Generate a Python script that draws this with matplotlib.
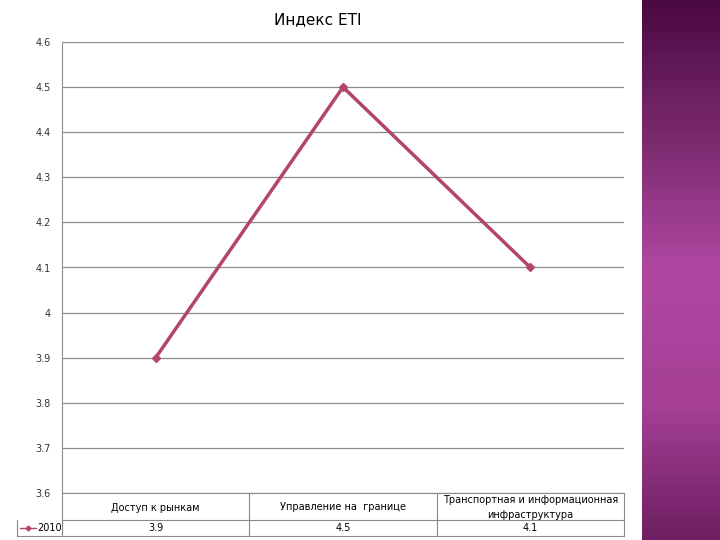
import numpy as np
import matplotlib
matplotlib.use("Agg")
import matplotlib.pyplot as plt
from matplotlib.colors import LinearSegmentedColormap

categories = ["Доступ к рынкам", "Управление на  границе",
              "Транспортная и информационная\nинфраструктура"]
values_2010 = [3.9, 4.5, 4.1]
series_name = "2010"
yticks = [3.6, 3.7, 3.8, 3.9, 4.0, 4.1, 4.2, 4.3, 4.4, 4.5, 4.6]
ytick_labels = ["3.6", "3.7", "3.8", "3.9", "4", "4.1", "4.2", "4.3", "4.4", "4.5", "4.6"]

W, H = 720, 540
fig = plt.figure(figsize=(7.2, 5.4), dpi=100)
fig.patch.set_facecolor("white")

# purple decorative strip on the right
strip = fig.add_axes([642 / W, 0, 78 / W, 1])
cmap = LinearSegmentedColormap.from_list("p", ["#4a0842", "#7a2a6e", "#b048a2", "#a54096", "#6e1f62"])
grad = np.linspace(0, 1, 256).reshape(-1, 1)
strip.imshow(grad, aspect="auto", cmap=cmap, extent=[0, 1, 1, 0])
strip.axis("off")

L, R, T, B = 62, 624, 42, 493
ax = fig.add_axes([L / W, 1 - B / H, (R - L) / W, (B - T) / H])
x = np.arange(len(categories))
line_color = "#b3456c"
ax.plot(x, values_2010, color=line_color, lw=2.5, marker="D", ms=4,
        markerfacecolor=line_color)
ax.set_xlim(-0.5, len(categories) - 0.5)
ax.set_ylim(3.6, 4.6)
ax.set_yticks(yticks)
ax.set_yticklabels(ytick_labels, fontsize=7, color="#333333")
ax.set_xticks([])
ax.yaxis.grid(True, color="#8c8c8c", lw=0.9)
ax.set_axisbelow(True)
ax.tick_params(axis="y", length=0, pad=8)
for s in ["top", "right"]:
    ax.spines[s].set_visible(False)
ax.spines["left"].set_color("#8c8c8c")
ax.spines["bottom"].set_color("#8c8c8c")
fig.text(318 / W, 1 - 20 / H, "Индекс ETI", ha="center", va="center", fontsize=11)

# data table below the plot
r1, r2, lab_left = 520, 536, 17
gray = "#888888"
def fy(py):
    return 1 - py / H
col_w = (R - L) / len(categories)
fig.add_artist(plt.Line2D([L / W, R / W], [fy(r1)] * 2, color=gray, lw=0.8))
fig.add_artist(plt.Line2D([lab_left / W, R / W], [fy(r2)] * 2, color=gray, lw=0.8))
fig.add_artist(plt.Line2D([lab_left / W, lab_left / W], [fy(r1), fy(r2)], color=gray, lw=0.8))
for i in range(len(categories) + 1):
    xx = (L + i * col_w) / W
    fig.add_artist(plt.Line2D([xx, xx], [fy(B), fy(r2)], color=gray, lw=0.8))
for i, (c, v) in enumerate(zip(categories, values_2010)):
    cx = (L + (i + 0.5) * col_w) / W
    fig.text(cx, fy((B + r1) / 2 + 1), c, ha="center", va="center", fontsize=7, linespacing=1.6)
    fig.text(cx, fy((r1 + r2) / 2), f"{v:g}", ha="center", va="center", fontsize=7)
fig.add_artist(plt.Line2D([20 / W, 28 / W, 36 / W], [fy(528)] * 3, color=line_color, lw=1,
                          marker="D", markevery=[1], markersize=2.5))
fig.text(37 / W, fy(528), series_name, ha="left", va="center", fontsize=7)

fig.savefig("out.png", dpi=100)
